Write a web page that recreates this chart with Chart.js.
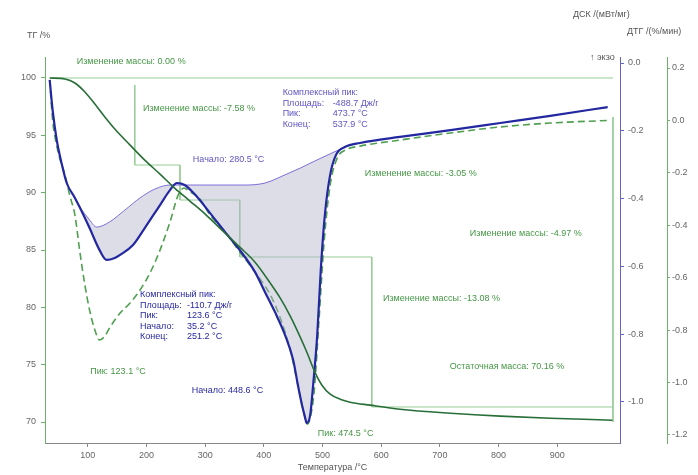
<!DOCTYPE html>
<html lang="ru">
<head>
<meta charset="utf-8">
<title>ТГ / ДСК / ДТГ</title>
<script src="https://cdn.jsdelivr.net/npm/chart.js@4.4.0/dist/chart.umd.min.js"></script>
<style>
  html, body { margin: 0; padding: 0; background: #fff; }
  canvas { display: block; }
</style>
</head>
<body>
<canvas id="thermo" width="698" height="475"></canvas>
<script>
// ТГ: температура (°C) и масса (%)
const tgTemp = [35, 61, 78, 95, 112, 129, 146, 172, 197, 223, 248, 274, 300, 325, 359, 385, 411, 428, 445, 462, 474, 487, 499, 513, 530, 547, 581, 632, 718, 803, 888, 994];
const tgMass = [100.0, 99.91, 99.56, 98.78, 97.73, 96.60, 95.55, 94.15, 92.84, 91.62, 90.40, 89.27, 88.13, 86.91, 85.25, 83.94, 82.11, 80.80, 79.23, 77.40, 76.00, 74.35, 73.21, 72.43, 71.99, 71.73, 71.47, 71.12, 70.77, 70.51, 70.33, 70.16];

// ДСК (мВт/мг)
const dscTemp = [35, 40, 47, 56, 64, 78, 86, 103, 120, 132, 146, 155, 177, 197, 223, 240, 252, 265, 283, 308, 334, 359, 385, 402, 419, 436, 450, 458, 465, 470, 473, 479, 484, 491, 497, 504, 513, 523, 538, 564, 632, 718, 803, 888, 986];
const dscValue = [-0.050, -0.139, -0.227, -0.301, -0.354, -0.398, -0.425, -0.487, -0.552, -0.581, -0.575, -0.566, -0.537, -0.487, -0.419, -0.375, -0.354, -0.360, -0.389, -0.442, -0.499, -0.552, -0.617, -0.676, -0.735, -0.802, -0.876, -0.950, -1.009, -1.044, -1.062, -1.038, -0.950, -0.802, -0.611, -0.448, -0.330, -0.271, -0.248, -0.236, -0.218, -0.198, -0.177, -0.156, -0.130];

// базовая линия интегрирования пиков ДСК
const baseTemp = [86, 103, 115, 137, 163, 189, 214, 240, 265, 291, 325, 368, 402, 436, 462, 487, 513, 538];
const baseValue = [-0.425, -0.463, -0.484, -0.469, -0.434, -0.398, -0.372, -0.360, -0.360, -0.360, -0.360, -0.360, -0.354, -0.330, -0.310, -0.289, -0.268, -0.248];

// ДТГ (%/мин)
const dtgTemp = [35, 40, 45, 52, 61, 69, 78, 86, 95, 103, 112, 120, 129, 137, 155, 172, 189, 206, 223, 240, 254, 264, 274, 290, 308, 334, 359, 385, 411, 428, 445, 458, 467, 474, 479, 486, 494, 503, 513, 525, 539, 564, 632, 718, 803, 888, 987];
const dtgValue = [0.154, 0.00, -0.075, -0.144, -0.208, -0.285, -0.361, -0.495, -0.628, -0.724, -0.800, -0.838, -0.823, -0.792, -0.735, -0.697, -0.647, -0.582, -0.495, -0.388, -0.285, -0.258, -0.273, -0.296, -0.361, -0.426, -0.502, -0.579, -0.666, -0.754, -0.876, -1.010, -1.105, -1.159, -1.136, -1.029, -0.762, -0.456, -0.247, -0.144, -0.113, -0.098, -0.075, -0.048, -0.025, -0.010, 0.000];

// ступени изменения массы
const stepTopTemp = [35, 995];
const stepTopMass = [100, 100];
const stepTemp = [180, 180, 257, 257, 359, 359, 584, 584, 995];
const stepMass = [99.39, 92.41, 92.41, 89.36, 89.36, 84.39, 84.39, 71.31, 71.31];
const stepEndTemp = [995, 995];
const stepEndMass = [96.6, 70.0];

// деления осей
const tempTicks = [100, 200, 300, 400, 500, 600, 700, 800, 900];
const tgTicks = [70, 75, 80, 85, 90, 95, 100];
const dscTicks = [-1.0, -0.8, -0.6, -0.4, -0.2, 0.0];
const dtgTicks = [-1.2, -1.0, -0.8, -0.6, -0.4, -0.2, 0.0, 0.2];

const font = "'Liberation Sans', Arial, sans-serif";
const green = 'rgb(70,150,70)';
const blue = 'rgb(40,40,160)';
const purple = 'rgb(95,85,195)';
const stepColor = 'rgb(150,205,150)';
const shade = 'rgba(180,180,205,0.45)';

const notes = [
  {t: 81, m: 101.4, color: green, lines: [['Изменение массы: 0.00 %']]},
  {t: 194, m: 97.38, color: green, lines: [['Изменение массы: -7.58 %']]},
  {t: 432, m: 98.69, color: purple, dx: 50, lines: [['Комплексный пик:'], ['Площадь:', '-488.7 Дж/г'], ['Пик:', '473.7 °C'], ['Конец:', '537.9 °C']]},
  {t: 279, m: 92.85, color: purple, lines: [['Начало: 280.5 °C']]},
  {t: 572, m: 91.71, color: green, lines: [['Изменение массы: -3.05 %']]},
  {t: 751, m: 86.48, color: green, lines: [['Изменение массы: -4.97 %']]},
  {t: 603, m: 80.81, color: green, lines: [['Изменение массы: -13.08 %']]},
  {t: 717, m: 74.80, color: green, lines: [['Остаточная масса: 70.16 %']]},
  {t: 104, m: 74.36, color: green, lines: [['Пик: 123.1 °C']]},
  {t: 277, m: 72.79, color: blue, lines: [['Начало: 448.6 °C']]},
  {t: 492, m: 69.04, color: green, lines: [['Пик: 474.5 °C']]},
  {t: 189, m: 81.08, color: blue, dx: 47, lines: [['Комплексный пик:'], ['Площадь:', '-110.7 Дж/г'], ['Пик:', '123.6 °C'], ['Начало:', '35.2 °C'], ['Конец:', '251.2 °C']]}
];

const toXY = (xs, ys) => xs.map((x, i) => ({x: x, y: ys[i]}));

const notesPlugin = {
  id: 'notes',
  afterDatasetsDraw(chart) {
    const {ctx, scales} = chart;
    ctx.save();
    ctx.font = '9px ' + font;
    ctx.textBaseline = 'middle';
    ctx.textAlign = 'left';
    notes.forEach(n => {
      const px = scales.x.getPixelForValue(n.t);
      const py = scales.yTG.getPixelForValue(n.m);
      ctx.fillStyle = n.color;
      n.lines.forEach((line, i) => {
        ctx.fillText(line[0], px, py + i * 10.5);
        if (line[1]) ctx.fillText(line[1], px + n.dx, py + i * 10.5);
      });
    });
    // подписи осей
    ctx.fillStyle = '#555';
    ctx.fillText('ТГ /%', 27, 36);
    ctx.fillText('ДСК /(мВт/мг)', 573, 15);
    ctx.fillText('ДТГ /(%/мин)', 627, 32);
    ctx.fillText('↑ экзо', 590, 58);
    ctx.restore();
  }
};

const lineSet = (label, data, axis, color, width, extra) => Object.assign({
  label: label, data: data, yAxisID: axis, borderColor: color, borderWidth: width, fill: false
}, extra || {});

const straight = {tension: 0, cubicInterpolationMode: 'default'};

const ctx = document.getElementById('thermo').getContext('2d');
new Chart(ctx, {
  type: 'line',
  data: {
    datasets: [
      lineSet('ТГ', toXY(tgTemp, tgMass), 'yTG', 'rgb(40,110,55)', 1.6),
      lineSet('ДСК', toXY(dscTemp, dscValue), 'yDSC', 'rgb(35,40,160)', 2.2),
      lineSet('Базовая линия', toXY(baseTemp, baseValue), 'yDSC', 'rgb(125,110,215)', 1, {fill: {target: 1, above: shade, below: shade}}),
      lineSet('ДТГ', toXY(dtgTemp, dtgValue), 'yDTG', 'rgb(80,160,80)', 1.6, {borderDash: [7, 4]}),
      lineSet('Ступень 0', toXY(stepTopTemp, stepTopMass), 'yTG', stepColor, 1, straight),
      lineSet('Ступени', toXY(stepTemp, stepMass), 'yTG', stepColor, 1, straight),
      lineSet('Конец', toXY(stepEndTemp, stepEndMass), 'yTG', stepColor, 1, straight)
    ]
  },
  options: {
    responsive: false,
    animation: false,
    layout: {padding: {top: 57, left: 0, right: 0, bottom: 0}},
    elements: {
      point: {radius: 0},
      line: {cubicInterpolationMode: 'monotone'}
    },
    plugins: {legend: {display: false}, tooltip: {enabled: false}},
    scales: {
      x: {
        type: 'linear', min: 27, max: 1007,
        afterBuildTicks: a => { a.ticks = tempTicks.map(v => ({value: v})); },
        afterFit: a => { a.height = 32; },
        grid: {drawOnChartArea: false, tickLength: 4, color: '#888'},
        border: {color: '#888'},
        ticks: {padding: 3, maxRotation: 0, autoSkip: false, color: '#666', font: {family: font, size: 9}},
        title: {display: true, text: 'Температура /°C', color: '#555', font: {family: font, size: 9}, padding: {top: 0, bottom: 2}}
      },
      yTG: {
        position: 'left', min: 68.17, max: 101.83,
        afterBuildTicks: a => { a.ticks = tgTicks.map(v => ({value: v})); },
        afterFit: a => { a.width = 45; },
        grid: {drawOnChartArea: false, tickLength: 4, color: 'rgb(110,175,110)'},
        border: {color: 'rgb(110,175,110)'},
        ticks: {padding: 5, color: '#666', font: {family: font, size: 9}}
      },
      yDSC: {
        position: 'right', weight: 0, min: -1.121, max: 0.0177,
        afterBuildTicks: a => { a.ticks = dscTicks.map(v => ({value: v})); },
        afterFit: a => { a.width = 47; },
        grid: {drawOnChartArea: false, tickLength: 4, color: 'rgb(100,100,200)'},
        border: {color: 'rgb(100,100,200)'},
        ticks: {padding: 4, color: '#666', font: {family: font, size: 9}, callback: v => v.toFixed(1)}
      },
      yDTG: {
        position: 'right', weight: 1, min: -1.231, max: 0.242,
        afterBuildTicks: a => { a.ticks = dtgTicks.map(v => ({value: v})); },
        afterFit: a => { a.width = 31; },
        grid: {drawOnChartArea: false, tickLength: 3, color: 'rgb(110,175,110)'},
        border: {color: 'rgb(110,175,110)'},
        ticks: {padding: 2, color: '#666', font: {family: font, size: 9}, callback: v => v.toFixed(1)}
      }
    }
  },
  plugins: [notesPlugin]
});
</script>
</body>
</html>
